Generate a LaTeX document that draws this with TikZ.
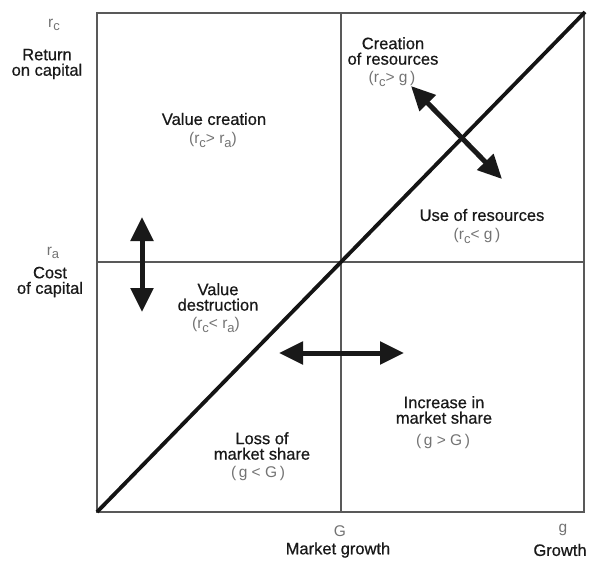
\documentclass[tikz,border=0pt]{standalone}
\usepackage{fontspec}
\setmainfont{Liberation Sans}
\newfontfamily\heavysans{Liberation Sans}[FakeBold=0.6]
\usetikzlibrary{arrows.meta}
\newcommand{\lowidx}[2]{#1\raisebox{-0.45ex}{\fontsize{13}{13}\selectfont #2}}

\begin{document}
\begin{tikzpicture}[x=1pt, y=-1pt,
    lbl/.style={align=center, text=black!90, font=\heavysans\fontsize{16.5}{15.5}\selectfont},
    cond/.style={text=black!55, font=\fontsize{15.5}{16}\selectfont},
    dblarrow/.style={{Triangle[length=24pt,width=22pt]}-{Triangle[length=24pt,width=22pt]}, line width=5pt, black!90}]
      \useasboundingbox (0,0) rectangle (591,560);

      % Frame and quadrants
      \draw[line width=1.2pt, black!65] (97,13) rectangle (584,512);
      \draw[line width=1.2pt, black!65] (341,13) -- (341,512);
      \draw[line width=1.2pt, black!65] (97,262) -- (584,262);

      % Diagonal r_c = g
      \coordinate (origin) at (97,512);
      \coordinate (corner) at (585,12);
      \draw[line width=3.8pt, black!92] (origin) -- (corner);

      % Axis labels
      \node[cond] (rc) at (54,25) {\lowidx{r}{c}};
      \node[lbl] (ret) at (47,64) {Return\\on capital};
      \node[cond] (ra) at (53,253) {\lowidx{r}{a}};
      \node[lbl] (cost) at (50,282) {Cost\\of capital};
      \node[cond] (bigG) at (340,531) {G};
      \node[lbl] (mgrowth) at (338,550) {Market growth};
      \node[cond] (smallg) at (563,530) {g};
      \node[lbl] (growth) at (560,550) {Growth};

      % Quadrant texts
      \node[lbl] (vcreate) at (214,119) {Value creation};
      \node[cond] (vcreatec) at (213,140) {(\lowidx{r}{c}> \lowidx{r}{a})};
      \node[lbl] (vdestroy) at (218,297) {Value\\destruction};
      \node[cond] (vdestroyc) at (216,325) {(\lowidx{r}{c}< \lowidx{r}{a})};
      \node[lbl] (rcreate) at (393,51) {Creation\\of resources};
      \node[cond] (rcreatec) at (392,79) {(\lowidx{r}{c}> g\,)};
      \node[lbl] (ruse) at (482,215) {Use of resources};
      \node[cond] (rusec) at (477,236) {(\lowidx{r}{c}< g\,)};
      \node[lbl] (msup) at (444,410) {Increase in\\market share};
      \node[cond] (msupc) at (443,441) {(\,g > G\,)};
      \node[lbl] (msdown) at (262,446) {Loss of\\market share};
      \node[cond] (msdownc) at (258,473) {(\,g < G\,)};

      % Double arrows
      \coordinate (vtop) at (142,217);
      \coordinate (vbot) at (142,312);
      \draw[dblarrow] (vtop) -- (vbot);
      \coordinate (hleft) at (279,353);
      \coordinate (hright) at (404,353);
      \draw[dblarrow] (hleft) -- (hright);
      \coordinate (dup) at (411,86);
      \coordinate (ddown) at (502,179);
      \draw[dblarrow] (dup) -- (ddown);
\end{tikzpicture}
\end{document}
